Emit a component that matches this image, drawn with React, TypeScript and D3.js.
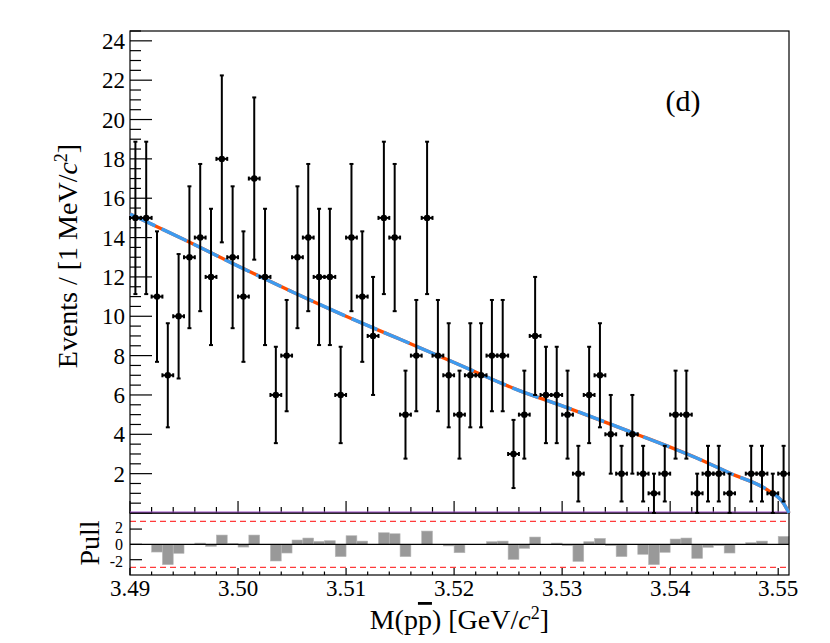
import * as d3 from 'd3';

// 1 MeV bins from 3.490 to 3.551 GeV/c^2
const binLow = 3.49;
const binWidth = 0.001;
const counts = [
  15, 15, 11, 7, 10, 13, 14, 12, 18, 13,
  11, 17, 12, 6, 8, 13, 14, 12, 12, 6,
  14, 11, 9, 15, 14, 5, 8, 15, 8, 7,
  5, 7, 7, 8, 8, 3, 5, 9, 6, 6,
  5, 2, 6, 7, 4, 2, 4, 2, 1, 2,
  5, 5, 1, 2, 2, 1, 0, 2, 2, 1, 2,
];
const pulls = [
  0, 0, -1.0, -2.65, -1.17, 0, 0.17, -0.26, 1.22, 0.13,
  -0.35, 1.22, 0, -2.17, -1.13, 0.57, 0.83, 0.39, 0.48, -1.6,
  1.13, 0.43, 0, 1.52, 1.39, -1.6, 0, 1.74, 0, -0.2,
  -1.09, 0, 0, 0.35, 0.43, -1.96, -0.52, 0.96, 0, 0.17,
  -0.17, -2.22, 0.35, 0.78, -0.17, -1.6, 0, -1.3, -2.65, -1.04,
  0.7, 0.83, -1.83, -0.39, -0.17, -1.13, 0, 0.22, 0.43, 0, 1.04,
];

// fit curve
const fitX = [3.49, 3.495, 3.5, 3.505, 3.51, 3.515, 3.52, 3.5261, 3.53, 3.5363, 3.5425, 3.5456, 3.549, 3.5505, 3.551];
const fitY = [15.2, 13.9, 12.55, 11.25, 10.0, 8.83, 7.65, 6.21, 5.45, 4.13, 2.78, 2.01, 1.17, 0.49, 0];

const xTicks = [3.49, 3.5, 3.51, 3.52, 3.53, 3.54, 3.55];
const yTicks = [2, 4, 6, 8, 10, 12, 14, 16, 18, 20, 22, 24];
const pullTicks = [2, 0, -2];

const W = 830;
const H = 643;
const L = 130;
const R = 789;
const T = 31;
const MB = 513;
const PB = 575;
const FONT = 'Liberation Serif, DejaVu Serif, serif';

export default function App() {
  const x = d3.scaleLinear().domain([3.49, 3.551]).range([L, R]);
  const y = d3.scaleLinear().domain([0, 24.5]).range([MB, T]);
  const yp = d3.scaleLinear().domain([-4, 4.1]).range([PB, MB]);

  const fitPts: [number, number][] = fitX.map((v, i) => [v, fitY[i]]);
  const fitPath = d3.line<[number, number]>()
    .x(d => x(d[0]))
    .y(d => y(d[1]))
    .curve(d3.curveMonotoneX)(fitPts) || '';

  const minorX = d3.range(0, 31).map(i => 3.49 + i * 0.002);
  const minorY = d3.range(0, 50).map(i => i * 0.5);

  const bins = counts.map((c, i) => ({
    lo: binLow + i * binWidth,
    hi: binLow + (i + 1) * binWidth,
    mid: binLow + (i + 0.5) * binWidth,
    c,
    e: Math.sqrt(c),
    p: pulls[i],
  }));

  return (
    <svg width={W} height={H} fontFamily={FONT} style={{ position: 'absolute', left: 0, top: 0, background: '#fff' }}>
      {/* pull bars */}
      {bins.map((b, i) => (
        <rect key={'p' + i}
          x={x(b.lo)} width={x(b.hi) - x(b.lo)}
          y={Math.min(yp(b.p), yp(0))} height={Math.abs(yp(b.p) - yp(0))}
          fill="#999" stroke="#b8b8b8" strokeWidth={0.6} />
      ))}
      {[3, -3].map(v => (
        <line key={'d' + v} x1={L} x2={R} y1={yp(v)} y2={yp(v)} stroke="#ff3b3b" strokeWidth={1.3} strokeDasharray="6,4" />
      ))}
      <line x1={L} x2={R} y1={yp(0)} y2={yp(0)} stroke="#000" strokeWidth={1.4} />

      {/* frames + ticks */}
      <rect x={L} y={T} width={R - L} height={MB - T} fill="none" stroke="#000" strokeWidth={1.2} />
      <rect x={L} y={MB} width={R - L} height={PB - MB} fill="none" stroke="#000" strokeWidth={1.2} />
      {minorY.map(v => {
        const major = v % 2 === 0;
        return <line key={'yt' + v} x1={L} x2={L + (major ? 22 : 11)} y1={y(v)} y2={y(v)} stroke="#000" strokeWidth={1.2} />;
      })}
      {minorX.map((v, i) => {
        const major = i % 5 === 0;
        return (
          <g key={'xt' + i}>
            <line x1={x(v)} x2={x(v)} y1={MB} y2={MB - (major ? 12 : 6)} stroke="#000" strokeWidth={1.2} />
            <line x1={x(v)} x2={x(v)} y1={PB} y2={PB - (major ? 7 : 3.5)} stroke="#000" strokeWidth={1.2} />
          </g>
        );
      })}
      {pullTicks.map(v => (
        <line key={'pt' + v} x1={L} x2={L + 12} y1={yp(v)} y2={yp(v)} stroke="#000" strokeWidth={1.2} />
      ))}
      <line x1={L} x2={R} y1={MB - 1} y2={MB - 1} stroke="#9b4fc8" strokeWidth={1.1} />

      {/* fit */}
      <path d={fitPath} fill="none" stroke="#ff4d00" strokeWidth={3.4} />
      <path d={fitPath} fill="none" stroke="#3d9bf0" strokeWidth={3.4} strokeDasharray="28,7" />

      {/* data */}
      {bins.filter(b => b.c > 0).map((b, i) => (
        <g key={'b' + i} stroke="#000" strokeWidth={2}>
          <line x1={x(b.mid)} x2={x(b.mid)} y1={y(b.c - b.e)} y2={y(b.c + b.e)} />
          <line x1={x(b.mid) - 2} x2={x(b.mid) + 2} y1={y(b.c + b.e)} y2={y(b.c + b.e)} />
          <line x1={x(b.mid) - 2} x2={x(b.mid) + 2} y1={y(b.c - b.e)} y2={y(b.c - b.e)} />
          <line x1={x(b.lo)} x2={x(b.hi)} y1={y(b.c)} y2={y(b.c)} />
          <line x1={x(b.lo)} x2={x(b.lo)} y1={y(b.c) - 2} y2={y(b.c) + 2} />
          <line x1={x(b.hi)} x2={x(b.hi)} y1={y(b.c) - 2} y2={y(b.c) + 2} />
          <circle cx={x(b.mid)} cy={y(b.c)} r={3.2} fill="#000" stroke="none" />
        </g>
      ))}

      {/* labels */}
      {yTicks.map(v => (
        <text key={'yl' + v} x={L - 5} y={y(v)} dy="0.35em" textAnchor="end" fontSize={23}>{v}</text>
      ))}
      {pullTicks.map(v => (
        <text key={'pl' + v} x={L - 7} y={yp(v) + (v < 0 ? 2 : v > 0 ? -1 : 0)} dy="0.33em" textAnchor="end" fontSize={16}>{v}</text>
      ))}
      {xTicks.map(v => (
        <text key={'xl' + v} x={x(v)} y={596} textAnchor="middle" fontSize={23}>{v.toFixed(2)}</text>
      ))}
      <text x={549} y={629} textAnchor="end" fontSize={28}>
        M(p<tspan style={{ textDecoration: 'overline' }}>p</tspan>) [GeV/<tspan fontStyle="italic">c</tspan><tspan dy={-10} fontSize={18}>2</tspan><tspan dy={10}>]</tspan>
      </text>
      <text transform="translate(77,256) rotate(-90)" textAnchor="middle" fontSize={28}>
        Events / [1 MeV/<tspan fontStyle="italic">c</tspan><tspan dy={-10} fontSize={18}>2</tspan><tspan dy={10}>]</tspan>
      </text>
      <text transform="translate(99,543) rotate(-90)" textAnchor="middle" fontSize={28}>Pull</text>
      <text x={683} y={111} textAnchor="middle" fontSize={30}>(d)</text>
    </svg>
  );
}
